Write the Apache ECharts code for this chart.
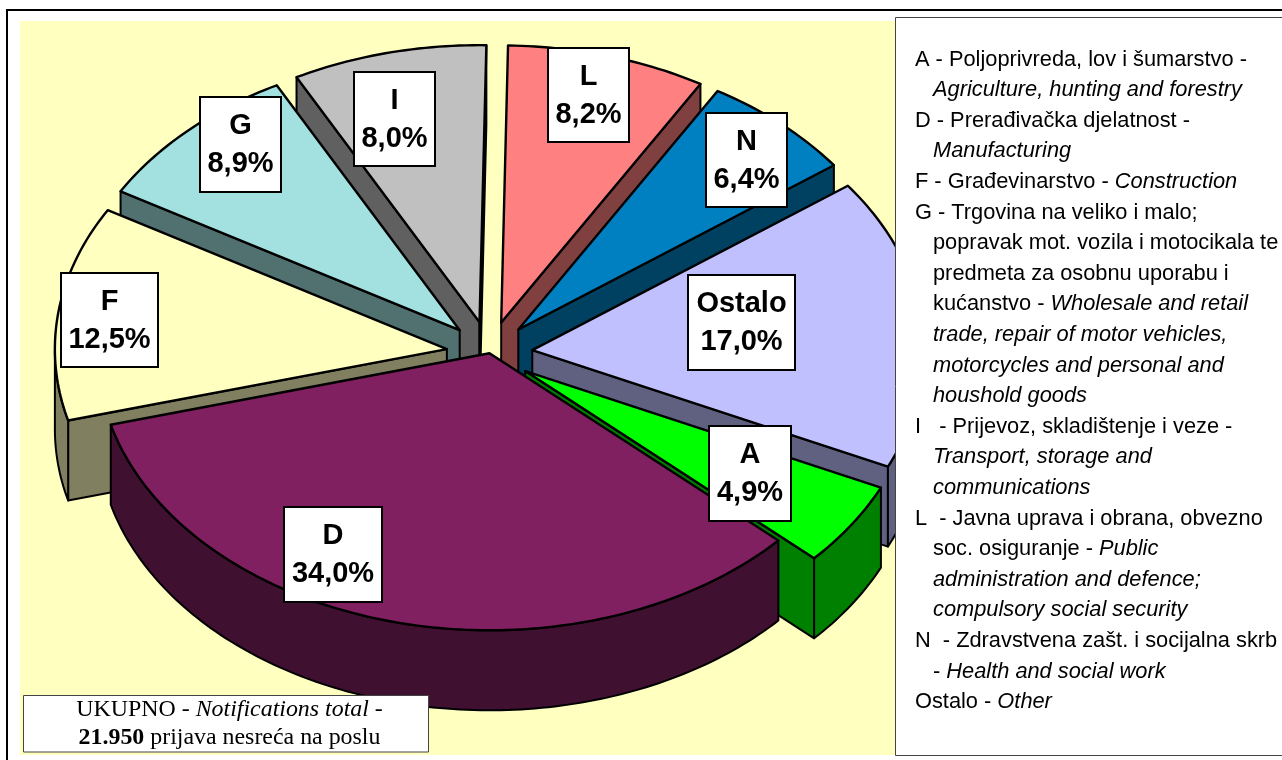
<!DOCTYPE html>
<html><head><meta charset="utf-8">
<style>html,body{margin:0;padding:0;background:#fff}#c{width:1282px;height:760px}</style>
<script src="https://cdn.jsdelivr.net/npm/echarts@6/dist/echarts.min.js"></script>
</head><body><div id="c"></div>
<script>
// ---- data (clockwise from the top) ----
const categories = ['L','N','Ostalo','A','D','F','G','I'];
const values     = [8.2, 6.4, 17.0, 4.9, 34.0, 12.5, 8.9, 8.0];
const exploded   = [1, 1, 1, 1, 0, 1, 1, 1];
const topColors  = ['#FF8080','#0080C0','#C0C0FF','#00FF00','#802060','#FFFFC0','#A3E1E1','#C0C0C0'];
const sideColors = ['#804040','#004060','#606080','#008000','#401030','#808060','#517070','#606060'];
// back-to-front painting order
const drawOrder  = ['I','L','G','N','F','Ostalo','A','D'];
// data-label boxes [x, y, w, h]
const labelBoxes = {L:[548,48,81,94],N:[706,113,81,94],Ostalo:[688,275,107,95],A:[709,426,82,95],
                    D:[284,507,98,95],F:[61,273,97,94],G:[200,97,81,95],I:[354,72,81,94]};
const legendLines = [
 ['A - Poljoprivreda, lov i šumarstvo -','',0],
 ['','Agriculture, hunting and forestry',1],
 ['D - Prerađivačka djelatnost -','',0],
 ['','Manufacturing',1],
 ['F - Građevinarstvo - ','Construction',0],
 ['G - Trgovina na veliko i malo;','',0],
 ['popravak mot. vozila i motocikala te','',1],
 ['predmeta za osobnu uporabu i','',1],
 ['kućanstvo - ','Wholesale and retail',1],
 ['','trade, repair of motor vehicles,',1],
 ['','motorcycles and personal and',1],
 ['','houshold goods',1],
 ['I   - Prijevoz, skladištenje i veze -','',0],
 ['','Transport, storage and',1],
 ['','communications',1],
 ['L  - Javna uprava i obrana, obvezno','',0],
 ['soc. osiguranje - ','Public',1],
 ['','administration and defence;',1],
 ['','compulsory social security',1],
 ['N  - Zdravstvena zašt. i socijalna skrb','',0],
 ['- ','Health and social work',1],
 ['Ostalo - ','Other',0]
];
// ---- pie geometry ----
const CX=489.5, CY=353.3, RX=392, RY=277, DEPTH=80, EX=43, EY=32, START=1.0;
const total = values.reduce((a,b)=>a+b,0);
const spans = {}; let acc = START;
categories.forEach((c,i)=>{ const s=values[i]/total*360; spans[c]=[acc,acc+s,i]; acc+=s; });
const rad = d=>d*Math.PI/180;
function rim(o,t){ return [o[0]+RX*Math.sin(rad(t)), o[1]-RY*Math.cos(rad(t))]; }
function renderSlice(params, api){
  const name = drawOrder[params.dataIndex];
  const [a,b,i] = spans[name];
  const mid=(a+b)/2, k=exploded[i];
  const o=[CX+k*EX*Math.sin(rad(mid)), CY-k*EY*Math.cos(rad(mid))];
  const arc=[]; const n=Math.max(4,Math.ceil(b-a));
  for(let j=0;j<=n;j++) arc.push(rim(o,a+(b-a)*j/n));
  const down=p=>[p[0],p[1]+DEPTH];
  const side={stroke:'#000',lineWidth:2,fill:sideColors[i],lineJoin:'round'};
  const kids=[];
  const mp=rim(o,mid);
  [arc[0],arc[n]].forEach(p=>{
    const e=[p[0]-o[0],p[1]-o[1]];
    let nn=[-e[1],e[0]];
    if(nn[0]*(mp[0]-o[0])+nn[1]*(mp[1]-o[1])>0) nn=[-nn[0],-nn[1]];
    if(nn[1]>0) kids.push({type:'polygon',shape:{points:[o,p,down(p),down(o)]},style:side});
  });
  // front-facing part of the outer rim
  const front=arc.filter((p,j)=>{const t=a+(b-a)*j/n;const m=((t%360)+360)%360;return m>=90&&m<=270;});
  if(front.length>1) kids.push({type:'polygon',shape:{points:front.concat(front.slice().reverse().map(down))},style:side});
  kids.push({type:'polygon',shape:{points:[o].concat(arc)},style:{stroke:'#000',lineWidth:2.4,fill:topColors[i],lineJoin:'round'}});
  return {type:'group',children:kids};
}
function renderLabel(params, api){
  const name=drawOrder[params.dataIndex];
  const v=values[spans[name][2]];
  const [x,y,w,h]=labelBoxes[name];
  return {type:'group',children:[
    {type:'rect',shape:{x,y,width:w,height:h},style:{fill:'#fff',stroke:'#000',lineWidth:2}},
    {type:'text',style:{x:x+w/2,y:y+h/2+0.5,text:name+'\n'+v.toFixed(1).replace('.',',')+'%',
      align:'center',verticalAlign:'middle',fill:'#000',lineHeight:38,
      font:'bold 29px "Liberation Sans", Arial, sans-serif'}}
  ]};
}
const seriesData = drawOrder.map(c=>({name:c,value:[values[categories.indexOf(c)],categories.indexOf(c)]}));
const LF='"Liberation Sans", Arial, sans-serif';
const legendEls = legendLines.map((l,i)=>({
  type:'text',z:110,x:l[2]?933:915,y:59.5+30.6*i,
  style:{text:(l[0]?'{r|'+l[0]+'}':'')+(l[1]?'{i|'+l[1]+'}':''),verticalAlign:'middle',
    rich:{r:{font:'21.8px '+LF,fill:'#000'},i:{font:'italic 21.8px '+LF,fill:'#000'}}}
}));
const chart=echarts.init(document.getElementById('c'),null,{renderer:'canvas'});
chart.setOption({
  animation:false,
  backgroundColor:'#fff',
  graphic:{elements:[
    {type:'rect',z:1,shape:{x:7,y:10,width:1290,height:760},style:{fill:'#fff',stroke:'#000',lineWidth:2}},
    {type:'rect',z:2,shape:{x:20,y:21,width:876,height:734},style:{fill:'#FFFFC0'}},
    {type:'rect',z:100,shape:{x:895.5,y:17.5,width:400,height:738},style:{fill:'#fff',stroke:'#444',lineWidth:1}},
    {type:'rect',z:100,shape:{x:23.5,y:695.5,width:405,height:56.5},style:{fill:'#fff',stroke:'#444',lineWidth:1}},
    {type:'text',z:110,x:229.5,y:710,style:{text:'{r|UKUPNO - }{i|Notifications total}{r| -}',align:'center',verticalAlign:'middle',
      rich:{r:{font:'23.9px "Liberation Serif", serif',fill:'#000'},i:{font:'italic 23.9px "Liberation Serif", serif',fill:'#000'}}}},
    {type:'text',z:110,x:229.5,y:738,style:{text:'{b|21.950}{r| prijava nesreća na poslu}',align:'center',verticalAlign:'middle',
      rich:{r:{font:'23.9px "Liberation Serif", serif',fill:'#000'},b:{font:'bold 23.9px "Liberation Serif", serif',fill:'#000'}}}}
  ].concat(legendEls)},
  series:[
    {type:'custom',coordinateSystem:'none',z:10,renderItem:renderSlice,data:seriesData,silent:true,clip:false},
    {type:'custom',coordinateSystem:'none',z:50,renderItem:renderLabel,data:seriesData,silent:true,clip:false}
  ]
});
</script></body></html>
